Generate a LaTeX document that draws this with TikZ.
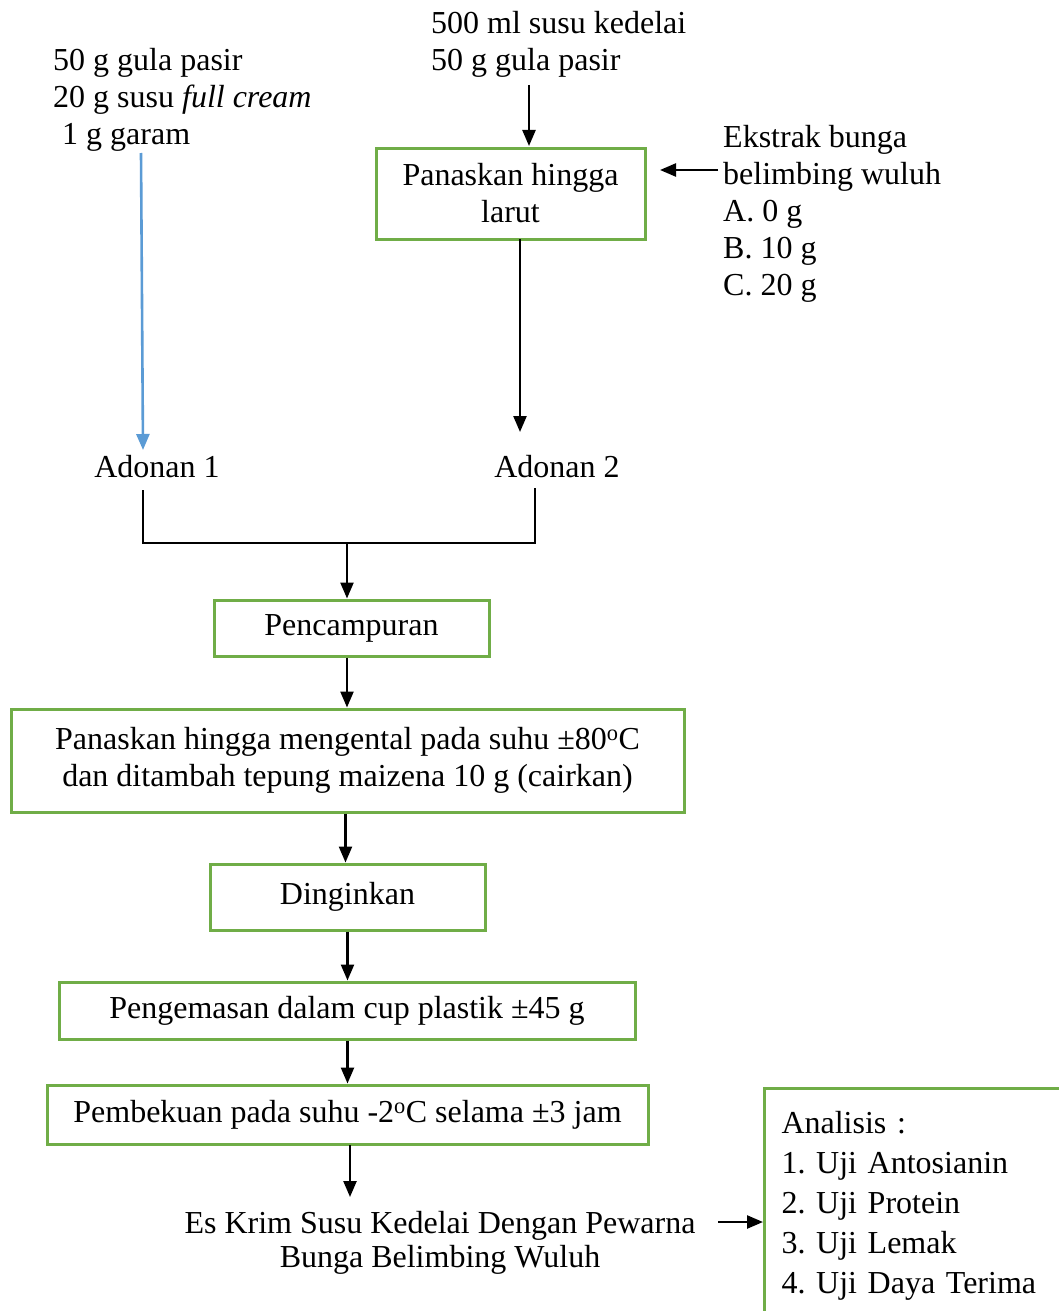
\documentclass[tikz,border=0pt]{standalone}
\usepackage{fontspec}
\setmainfont{Liberation Serif}
\usetikzlibrary{arrows.meta,calc}
\definecolor{gboxc}{RGB}{112,173,71}
\definecolor{bluec}{RGB}{91,155,213}
\begin{document}
\frenchspacing
\begin{tikzpicture}[x=1pt,y=-1pt,
  txt/.style={inner sep=0pt,font=\fontsize{32}{37}\selectfont},
  gbox/.style={txt,draw=gboxc,line width=3pt,align=center},
  arr/.style={line width=2.4pt,-{Triangle[width=13pt,length=16pt]}},
  thinline/.style={line width=1.5pt}]
\useasboundingbox (0,0) rectangle (1059,1311);

% text blocks (anchor = baseline of last line)
\node[txt,align=left,anchor=base west] (lft) at (53,145) {50 g gula pasir\\20 g susu \textit{full cream}\\\hspace*{9pt}1 g garam};
\node[txt,align=left,anchor=base west] (top) at (431,71) {500 ml susu kedelai\\50 g gula pasir};
\node[txt,align=left,anchor=base west] (ek) at (723,295) {Ekstrak bunga\\belimbing wuluh\\A. 0 g\\B. 10 g\\C. 20 g};
\node[txt,anchor=base] (ad1) at (157,477) {Adonan 1};
\node[txt,anchor=base] (ad2) at (557,477) {Adonan 2};
\node[txt,align=center,anchor=base] (es) at (440,1267) {Es Krim Susu Kedelai Dengan Pewarna\\[-3pt]Bunga Belimbing Wuluh};

% boxes
\node[gbox,minimum width=269pt,minimum height=91pt] (b1) at (510.5,193.5) {Panaskan hingga\\larut};
\node[gbox,minimum width=275pt,minimum height=56pt] (pen) at (351.5,628) {Pencampuran};
\node[gbox,minimum width=673pt,minimum height=103pt] (big) at (347.5,760.5) {Panaskan hingga mengental pada suhu ±80\textsuperscript{o}C\\dan ditambah tepung maizena 10 g (cairkan)};
\node[gbox,minimum width=275pt,minimum height=66pt] (ding) at (347.5,897) {Dinginkan};
\node[gbox,minimum width=576pt,minimum height=57pt] (kem) at (347,1010.5) {Pengemasan dalam cup plastik ±45 g};
\node[gbox,minimum width=601pt,minimum height=59pt] (beku) at (347.5,1114.5) {Pembekuan pada suhu -2\textsuperscript{o}C selama ±3 jam};
\node[gbox,font=\fontsize{32}{40}\selectfont,align=left,text width=266pt,minimum width=300pt,minimum height=234pt,anchor=north west] (ana) at (763,1087) {Analisis :\\1. Uji Antosianin\\2. Uji Protein\\3. Uji Lemak\\4. Uji Daya Terima};

% free ends
\coordinate (c1) at (529,85);
\coordinate (c1e) at (529,146);
\coordinate (c2) at (718,170);
\coordinate (c2e) at (660,170);
\coordinate (c3) at (141,153);
\coordinate (c3e) at (143,450);
\coordinate (c4) at (520,239);
\coordinate (c4e) at (520,432);
\coordinate (m1) at (143,490);
\coordinate (m1b) at (143,543);
\coordinate (m2) at (535,488);
\coordinate (m2b) at (535,543);
\coordinate (m3) at (347,543);
\coordinate (c5) at (350,1145);
\coordinate (c5e) at (350,1197);
\coordinate (c6) at (718,1222);

% connectors
\draw[arr] (c1) -- (c1e);
\draw[arr] (c2) -- (c2e);
\draw[arr,draw=bluec,fill=bluec,line width=2.6pt] (c3) -- (c3e);
\draw[arr] (c4) -- (c4e);
\draw[thinline] (m1) -- (m1b) -- (m2b) -- (m2);
\draw[arr] (m3) -- (m3 |- pen.north);
\draw[arr] (m3 |- pen.south) -- (m3 |- big.north);
\draw[arr] ([xshift=-2pt]big.south) -- ([xshift=-2pt]ding.north);
\draw[arr] (ding.south) -- (ding.south |- kem.north);
\draw[arr] (ding.south |- kem.south) -- (ding.south |- beku.north);
\draw[arr] (c5) -- (c5e);
\draw[arr] (c6) -- (ana.west |- c6);
\end{tikzpicture}
\end{document}
